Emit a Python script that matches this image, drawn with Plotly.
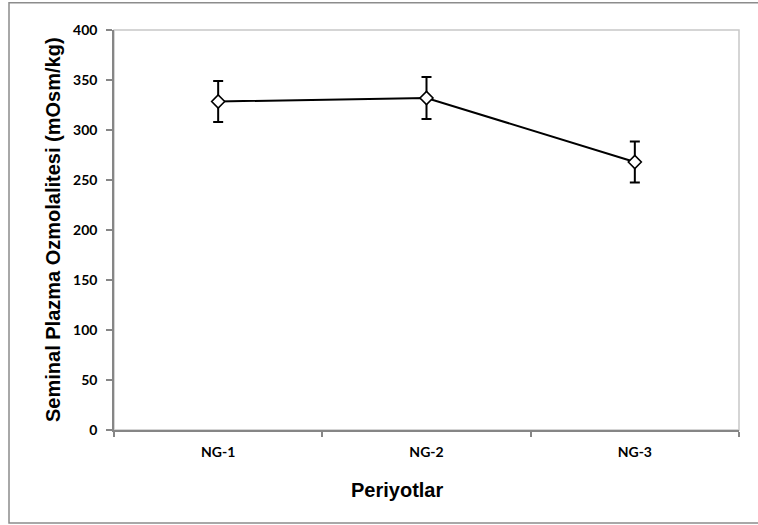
import plotly.graph_objects as go

categories = ["NG-1", "NG-2", "NG-3"]
means = [328.5, 332, 268]
errors = [20.5, 21, 20.5]
y_ticks = [0, 50, 100, 150, 200, 250, 300, 350, 400]

x_title = "Periyotlar"
y_title = "Seminal Plazma Ozmolalitesi (mOsm/kg)"

fig = go.Figure()
fig.add_trace(go.Scatter(
    x=categories, y=means,
    mode="lines+markers",
    line=dict(color="black", width=2),
    marker=dict(symbol="diamond", size=10, color="white",
                line=dict(color="black", width=1.6)),
    error_y=dict(type="data", array=errors, visible=True,
                 color="black", thickness=2, width=5),
    showlegend=False,
))

tick_font = dict(family="Lato", size=14, color="black", weight="bold")
title_font = dict(family="Liberation Sans", size=20, color="black", weight="bold")
axis_gray = "#868686"

fig.update_layout(
    width=758, height=525,
    margin=dict(l=114, r=19, t=30, b=95),
    paper_bgcolor="white", plot_bgcolor="white",
    xaxis=dict(
        type="category", range=[-0.5, 2.5],
        showline=True, linecolor=axis_gray, linewidth=1.6,
        ticks="outside", tickson="boundaries", ticklen=5,
        tickcolor=axis_gray, tickwidth=1.5,
        showgrid=False, zeroline=False,
        tickfont=tick_font, ticklabelstandoff=8,
    ),
    yaxis=dict(
        range=[0, 400], tickvals=y_ticks,
        showline=True, linecolor=axis_gray, linewidth=1.6,
        ticks="outside", ticklen=6, tickcolor=axis_gray, tickwidth=1.5,
        showgrid=False, zeroline=False,
        tickfont=tick_font, ticklabelstandoff=6,
    ),
    shapes=[
        dict(type="rect", xref="paper", yref="paper",
             x0=0, x1=1, y0=0, y1=1,
             line=dict(color="#c8c8c8", width=1.5), layer="below"),
        dict(type="rect", xref="paper", yref="paper",
             x0=-0.168, x1=1.06, y0=-0.2325, y1=1.068,
             line=dict(color="#8c8c8c", width=1.5), layer="above"),
    ],
    annotations=[
        dict(text=x_title, xref="paper", yref="paper",
             x=0.4528, y=-0.15, xanchor="center", yanchor="middle",
             showarrow=False, font=title_font),
        dict(text=y_title, xref="paper", yref="paper",
             x=-0.0976, y=0.5, xanchor="center", yanchor="middle",
             textangle=-90, showarrow=False, font=title_font),
    ],
)

fig.write_html(
    "out.html",
    config={"displayModeBar": False},
    post_script="document.body.style.margin='0';document.body.style.overflow='hidden';",
)
